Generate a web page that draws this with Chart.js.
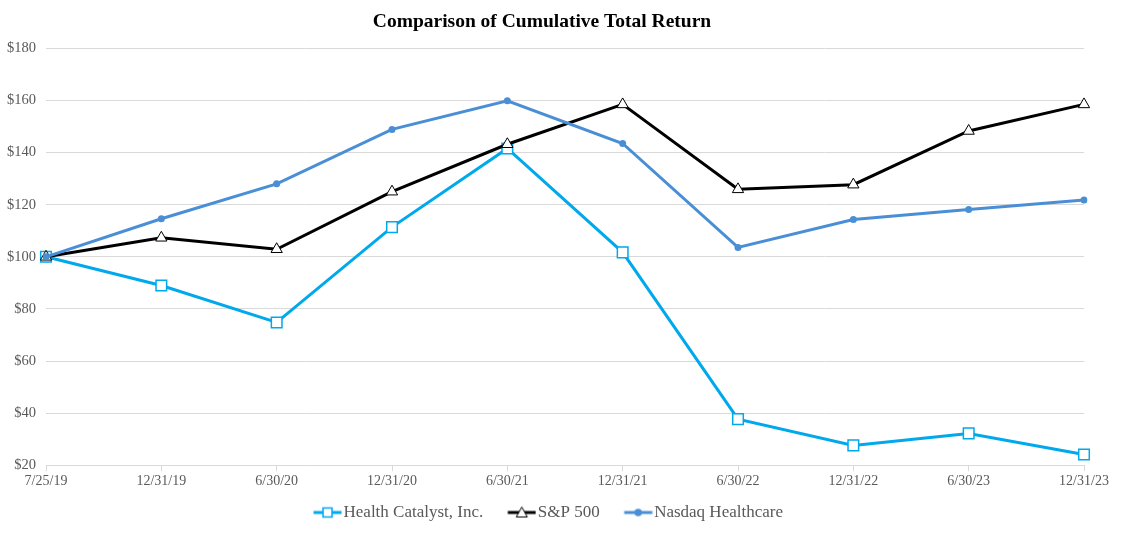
<!DOCTYPE html>
<html lang="en">
<head>
<meta charset="UTF-8">
<title>Comparison of Cumulative Total Return</title>
<style>
    body {
        margin: 0;
        background-color: #ffffff;
    }

    .chart-box {
        width: 1126px;
        height: 533px;
    }
</style>
<script src="https://cdn.jsdelivr.net/npm/chart.js"></script>
</head>
<body>
<div class="chart-box"><canvas id="returnChart"></canvas></div>
<script>
    const periods = ["7/25/19", "12/31/19", "6/30/20", "12/31/20", "6/30/21", "12/31/21", "6/30/22", "12/31/22", "6/30/23", "12/31/23"];
    const healthCatalyst = [100, 89.0, 74.8, 111.4, 141.6, 101.7, 37.7, 27.6, 32.2, 24.1];
    const sp500 = [100, 107.3, 102.9, 125.0, 143.2, 158.5, 125.9, 127.7, 148.3, 158.5];
    const nasdaqHealthcare = [100, 114.6, 128.0, 148.9, 159.9, 143.5, 103.6, 114.3, 118.2, 121.8];
    const yMin = 20;
    const yMax = 180;
    const yStep = 20;

    const serif = "'Liberation Serif', 'Times New Roman', serif";
    const grey = "#595959";
    const gridGrey = "#d9d9d9";

    // legend picture: line + marker, with empty room on the left so the
    // line sits close to its text like in the original
    const boxW = 34;
    function legendSwatch(color, marker, fill) {
        const c = document.createElement("canvas");
        c.width = boxW + 14;
        c.height = 14;
        const g = c.getContext("2d");
        const x1 = c.width - 0.5;
        const x0 = x1 - 28;
        const mid = (x0 + x1) / 2;
        g.strokeStyle = color;
        g.lineWidth = 3;
        g.beginPath();
        g.moveTo(x0, 7);
        g.lineTo(x1, 7);
        g.stroke();
        g.fillStyle = fill;
        g.lineWidth = marker === "triangle" ? 1 : 1.5;
        g.beginPath();
        if (marker === "rect") {
            g.rect(mid - 4.5, 2.5, 9, 9);
        } else if (marker === "triangle") {
            g.moveTo(mid, 1.5);
            g.lineTo(mid + 5.5, 11.5);
            g.lineTo(mid - 5.5, 11.5);
            g.closePath();
        } else {
            g.arc(mid, 7, 3, 0, Math.PI * 2);
        }
        g.fill();
        g.stroke();
        return c;
    }

    const datasets = [
        {
            label: "Health Catalyst, Inc.",
            data: healthCatalyst,
            borderColor: "#00a8ec",
            borderWidth: 3,
            pointStyle: "rect",
            pointRadius: 7.5,
            pointHoverRadius: 7.5,
            pointBackgroundColor: "#ffffff",
            pointBorderColor: "#00a8ec",
            pointBorderWidth: 1.5,
            order: 2,
            swatch: legendSwatch("#00a8ec", "rect", "#ffffff"),
        },
        {
            label: "S&P 500",
            data: sp500,
            borderColor: "#000000",
            borderWidth: 3,
            pointStyle: "triangle",
            pointRadius: 6.5,
            pointHoverRadius: 6.5,
            pointBackgroundColor: "#ffffff",
            pointBorderColor: "#000000",
            pointBorderWidth: 1,
            order: 1,
            swatch: legendSwatch("#000000", "triangle", "#ffffff"),
        },
        {
            label: "Nasdaq Healthcare",
            data: nasdaqHealthcare,
            borderColor: "#4a8fd6",
            borderWidth: 3,
            pointStyle: "circle",
            pointRadius: 3.5,
            pointHoverRadius: 3.5,
            pointBackgroundColor: "#4a8fd6",
            pointBorderColor: "#4a8fd6",
            pointBorderWidth: 0,
            order: 0,
            swatch: legendSwatch("#4a8fd6", "circle", "#4a8fd6"),
        },
    ];

    const chart = new Chart(document.getElementById("returnChart"), {
        type: "line",
        data: { labels: periods, datasets: datasets },
        options: {
            responsive: true,
            maintainAspectRatio: false,
            animation: false,
            layout: { padding: { left: 0, right: 42, top: 6, bottom: 2 } },
            plugins: {
                title: {
                    display: true,
                    text: "Comparison of Cumulative Total Return",
                    color: "#000000",
                    font: { family: serif, size: 19.5, weight: "bold" },
                    padding: { top: 4, bottom: 15 },
                },
                legend: {
                    position: "bottom",
                    labels: {
                        usePointStyle: true,
                        pointStyleWidth: boxW,
                        color: grey,
                        padding: 12,
                        font: { family: serif, size: 17 },
                        generateLabels: (c) => c.data.datasets.map((ds, i) => ({
                            text: ds.label,
                            pointStyle: ds.swatch,
                            fontColor: grey,
                            fillStyle: ds.borderColor,
                            strokeStyle: ds.borderColor,
                            lineWidth: 0,
                            datasetIndex: i,
                            hidden: false,
                        })),
                    },
                },
                tooltip: { enabled: false },
            },
            scales: {
                x: {
                    offset: false,
                    grid: {
                        drawOnChartArea: false,
                        drawTicks: true,
                        tickLength: 6,
                        color: gridGrey,
                    },
                    border: { display: true, color: gridGrey },
                    ticks: {
                        color: grey,
                        padding: 2,
                        maxRotation: 0,
                        autoSkip: false,
                        font: { family: serif, size: 14 },
                    },
                },
                y: {
                    min: yMin,
                    max: yMax,
                    grid: { color: gridGrey, drawTicks: false },
                    border: { display: false },
                    afterFit: (scale) => { scale.width = 46; },
                    ticks: {
                        stepSize: yStep,
                        color: grey,
                        padding: 10,
                        font: { family: serif, size: 14.5 },
                        callback: (v) => "$" + v,
                    },
                },
            },
        },
    });
</script>
</body>
</html>
